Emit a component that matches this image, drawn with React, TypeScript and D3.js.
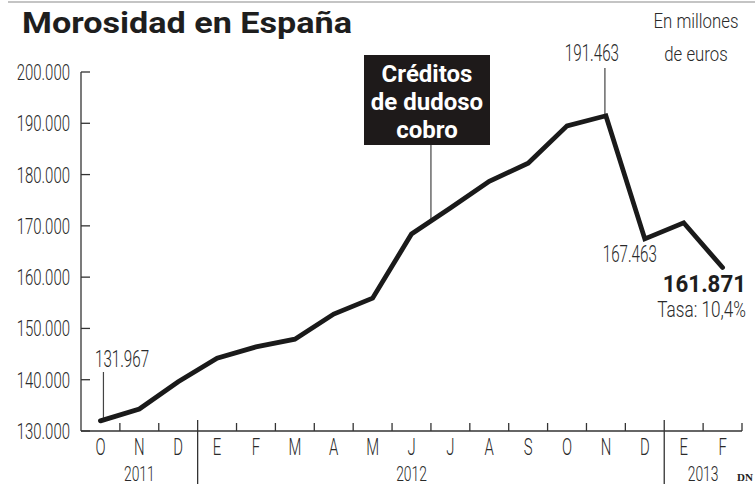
import React from "react";
import * as d3 from "d3";

const title = "Morosidad en España";
const unitLines = ["En millones", "de euros"];
const months = ["O", "N", "D", "E", "F", "M", "A", "M", "J", "J", "A", "S", "O", "N", "D", "E", "F"];
const values = [131967, 134300, 139600, 144200, 146400, 147900, 152800, 155900, 168400, 173500, 178700, 182200, 189500, 191463, 167463, 170600, 161871];
const yearLabels = ["2011", "2012", "2013"];
const yearBreaks = [3, 15];
const yearLabelPos = [1, 8, 15.5];
const yTicks = [130000, 140000, 150000, 160000, 170000, 180000, 190000, 200000];
const calloutLines = ["Créditos", "de dudoso", "cobro"];
const calloutBoundary = 9;
const rateLabel = "Tasa: 10,4%";

const W = 755;
const H = 486;
const LF = "Roboto, 'Liberation Sans Narrow', sans-serif";

const fmt = d3.formatLocale({ decimal: ",", thousands: ".", grouping: [3], currency: ["", "€"] }).format(",d");

function CT(props: any) {
  const { x, y, sx = 1, anchor = "start", size, weight = 300, fill = "#2a2a2a", children, family = LF } = props;
  return (
    <text
      transform={`translate(${x},${y}) scale(${sx},1)`}
      textAnchor={anchor}
      fontSize={size}
      fontWeight={weight}
      fontFamily={family}
      fill={fill}
    >
      {children}
    </text>
  );
}

export default function App() {
  const x = d3.scaleBand<number>().domain(d3.range(months.length)).range([81, 742]).padding(0);
  const bw = x.bandwidth();
  const cx = (i: number) => (x(i) as number) + bw / 2;
  const y = d3.scaleLinear().domain([130000, 200000]).range([431, 72]);

  const line = d3
    .line<number>()
    .x((_, i) => cx(i))
    .y((d) => y(d));

  const last = values.length - 1;
  const peakIdx = d3.maxIndex(values);
  const dipIdx = 14;
  const bx = 81 + calloutBoundary * bw;
  const leaderY = y((values[calloutBoundary - 1] + values[calloutBoundary]) / 2);

  return (
    <div style={{ position: "absolute", left: 0, top: 0 }}>
      <svg width={W} height={H} style={{ display: "block", background: "#fff" }}>
        <line x1={8} x2={W} y1={2} y2={2} stroke="#c4c4c4" strokeWidth={2} />
        <text x={22} y={33} fontFamily="Roboto, sans-serif" fontWeight={700} fontSize={30} fill="#1e1e1e" textLength={330} lengthAdjust="spacingAndGlyphs">
          {title}
        </text>
        {unitLines.map((t, i) => (
          <CT key={t} x={696} y={28 + i * 33} sx={0.8} anchor="middle" size={21}>
            {t}
          </CT>
        ))}

        {/* y axis */}
        <line x1={81} x2={81} y1={y(200000)} y2={431} stroke="#333" strokeWidth={1.3} />
        {yTicks.map((t) => (
          <g key={t}>
            <line x1={81} x2={90} y1={y(t)} y2={y(t)} stroke="#333" strokeWidth={1.3} />
            <CT x={70} y={y(t) + 8} sx={0.68} anchor="end" size={22}>
              {fmt(t)}
            </CT>
          </g>
        ))}

        {/* x axis */}
        <line x1={81} x2={742} y1={431} y2={431} stroke="#333" strokeWidth={1.3} />
        {d3.range(1, months.length + 1).map((i) => {
          const bxi = 81 + i * bw;
          const isBreak = yearBreaks.includes(i);
          return (
            <line key={i} x1={bxi} x2={bxi} y1={isBreak ? 420 : 423} y2={isBreak ? 484 : 431} stroke="#333" strokeWidth={1.3} />
          );
        })}
        {months.map((m, i) => (
          <CT key={i} x={cx(i)} y={455} sx={0.62} anchor="middle" size={24}>
            {m}
          </CT>
        ))}
        {yearLabels.map((t, i) => (
          <CT key={t} x={81 + (yearLabelPos[i] + 0.5) * bw} y={480.5} sx={0.66} anchor="middle" size={21}>
            {t}
          </CT>
        ))}

        {/* leaders */}
        <line x1={cx(0) + 3} x2={cx(0) + 3} y1={372} y2={y(values[0]) - 3} stroke="#444" strokeWidth={1.2} />
        <line x1={cx(peakIdx) - 1} x2={cx(peakIdx) - 1} y1={68} y2={y(values[peakIdx])} stroke="#444" strokeWidth={1.2} />
        <line x1={bx} x2={bx} y1={145} y2={leaderY} stroke="#444" strokeWidth={1.2} />

        {/* data line */}
        <path d={line(values) || ""} fill="none" stroke="#1a1a1a" strokeWidth={4.8} strokeLinejoin="miter" strokeLinecap="round" />

        {/* value labels */}
        <CT x={95} y={367} sx={0.66} size={23}>
          {fmt(values[0])}
        </CT>
        <CT x={cx(peakIdx) - 14} y={61} sx={0.66} anchor="middle" size={23}>
          {fmt(values[peakIdx])}
        </CT>
        <CT x={cx(dipIdx) - 15} y={262} sx={0.66} anchor="middle" size={23}>
          {fmt(values[dipIdx])}
        </CT>
        <CT x={746} y={292} sx={0.93} anchor="end" size={24} weight={700} fill="#1e1e1e">
          {fmt(values[last])}
        </CT>
        <CT x={746} y={317} sx={0.78} anchor="end" size={22}>
          {rateLabel}
        </CT>

        {/* callout */}
        <rect x={364} y={55} width={126} height={90} fill="#1e1a1a" />
        {calloutLines.map((t, i) => (
          <text key={t} x={427} y={82 + i * 28} textAnchor="middle" fontFamily="Roboto, sans-serif" fontWeight={700} fontSize={24} fill="#fff">
            {t}
          </text>
        ))}

        <text x={737} y={481} fontFamily="'Liberation Serif', serif" fontWeight={700} fontSize={11} fill="#222">
          DN
        </text>
      </svg>
    </div>
  );
}
